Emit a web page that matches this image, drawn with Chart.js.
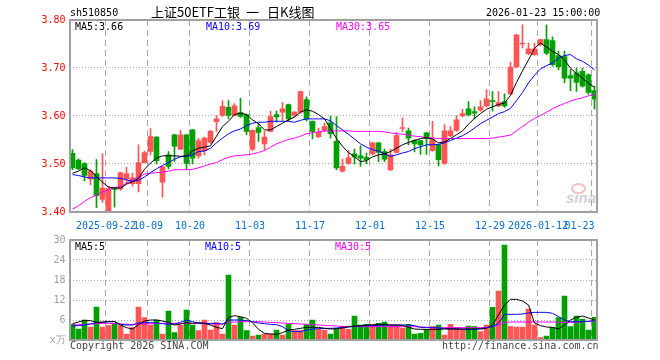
<!DOCTYPE html>
<html>
<head>
<meta charset="utf-8">
<title>上证50ETF工银 日K线图</title>
<script src="https://cdn.jsdelivr.net/npm/chart.js"></script>
<style>
  html, body { margin: 0; padding: 0; background: #fff; }
  #stage { position: relative; width: 660px; height: 360px; overflow: hidden; }
  canvas { position: absolute; left: 0; z-index: 1; }
  #kChart { top: 0; }
  #vChart { top: 230px; }
  .txt { position: absolute; z-index: 2; white-space: pre; font: 10px/12px 'DejaVu Sans Mono', monospace; color: #000; }
  .cjk { font: 13px/13px 'Noto Sans CJK SC', sans-serif; }
  .blue { color: #0000ff; }
  .pink { color: #ff00ff; }
  .foot { color: #444; }
  #logoText { position: absolute; z-index: 0; left: 566px; top: 190px; font: italic bold 15px/15px 'Liberation Sans', sans-serif; color: #d2d2d2; }
  #logoEye { position: absolute; z-index: 0; left: 571px; top: 183px; width: 11px; height: 7px; border: 2px solid #f2c0c0; border-radius: 50%; }
</style>
</head>
<body>
<div id="stage">
  <div id="logoEye"></div>
  <div id="logoText">sina</div>
  <canvas id="kChart" width="660" height="232"></canvas>
  <canvas id="vChart" width="660" height="130"></canvas>

  <div class="txt" style="left:70px;top:7px">sh510850</div>
  <div class="txt cjk" style="left:151px;top:5px">上证50ETF工银</div>
  <div class="txt cjk" style="left:246px;top:5px">一</div>
  <div class="txt cjk" style="left:267px;top:5px">日K线图</div>
  <div class="txt" style="left:486px;top:7px">2026-01-23 15:00:00</div>

  <div class="txt" style="left:75px;top:21px">MA5:3.66</div>
  <div class="txt blue" style="left:206px;top:21px">MA10:3.69</div>
  <div class="txt pink" style="left:336px;top:21px">MA30:3.65</div>

  <div class="txt" style="left:75px;top:241px">MA5:5</div>
  <div class="txt blue" style="left:205px;top:241px">MA10:5</div>
  <div class="txt pink" style="left:335px;top:241px">MA30:5</div>

  <div class="txt foot" style="left:70px;top:340px">Copyright 2026 SINA.COM</div>
  <div class="txt foot" style="left:442px;top:340px">http://finance.sina.com.cn</div>
</div>

<script>
// trading days, 2025-09-12 .. 2026-01-23
const dates = [
  '2025-09-12', '2025-09-15', '2025-09-16', '2025-09-17', '2025-09-18', '2025-09-19', '2025-09-22', '2025-09-23', '2025-09-24', '2025-09-25',
  '2025-09-26', '2025-09-29', '2025-09-30', '2025-10-09', '2025-10-10', '2025-10-13', '2025-10-14', '2025-10-15', '2025-10-16', '2025-10-17',
  '2025-10-20', '2025-10-21', '2025-10-22', '2025-10-23', '2025-10-24', '2025-10-27', '2025-10-28', '2025-10-29', '2025-10-30', '2025-10-31',
  '2025-11-03', '2025-11-04', '2025-11-05', '2025-11-06', '2025-11-07', '2025-11-10', '2025-11-11', '2025-11-12', '2025-11-13', '2025-11-14',
  '2025-11-17', '2025-11-18', '2025-11-19', '2025-11-20', '2025-11-21', '2025-11-24', '2025-11-25', '2025-11-26', '2025-11-27', '2025-11-28',
  '2025-12-01', '2025-12-02', '2025-12-03', '2025-12-04', '2025-12-05', '2025-12-08', '2025-12-09', '2025-12-10', '2025-12-11', '2025-12-12',
  '2025-12-15', '2025-12-16', '2025-12-17', '2025-12-18', '2025-12-19', '2025-12-22', '2025-12-23', '2025-12-24', '2025-12-25', '2025-12-26',
  '2025-12-29', '2025-12-30', '2025-12-31', '2026-01-05', '2026-01-06', '2026-01-07', '2026-01-08', '2026-01-09', '2026-01-12', '2026-01-13',
  '2026-01-14', '2026-01-15', '2026-01-16', '2026-01-19', '2026-01-20', '2026-01-21', '2026-01-22', '2026-01-23'
];

const open = [
  3.522, 3.508, 3.501, 3.469, 3.480, 3.426, 3.401, 3.450, 3.448, 3.469,
  3.459, 3.459, 3.503, 3.526, 3.556, 3.462, 3.519, 3.561, 3.531, 3.561,
  3.571, 3.517, 3.528, 3.545, 3.588, 3.601, 3.618, 3.601, 3.607, 3.603,
  3.531, 3.576, 3.542, 3.568, 3.603, 3.608, 3.624, 3.601, 3.608, 3.634,
  3.589, 3.557, 3.570, 3.586, 3.547, 3.485, 3.501, 3.521, 3.517, 3.514,
  3.521, 3.544, 3.526, 3.488, 3.524, 3.574, 3.569, 3.549, 3.549, 3.565,
  3.528, 3.540, 3.501, 3.559, 3.570, 3.600, 3.615, 3.609, 3.612, 3.621,
  3.632, 3.621, 3.630, 3.646, 3.702, 3.750, 3.730, 3.728, 3.748, 3.759,
  3.757, 3.726, 3.724, 3.684, 3.690, 3.693, 3.686, 3.653
];
const high = [
  3.530, 3.511, 3.503, 3.488, 3.509, 3.521, 3.453, 3.452, 3.483, 3.493,
  3.481, 3.540, 3.527, 3.574, 3.557, 3.495, 3.526, 3.562, 3.570, 3.562,
  3.572, 3.553, 3.556, 3.570, 3.601, 3.632, 3.632, 3.626, 3.637, 3.604,
  3.571, 3.584, 3.568, 3.610, 3.610, 3.628, 3.625, 3.609, 3.652, 3.640,
  3.590, 3.575, 3.585, 3.600, 3.599, 3.510, 3.528, 3.531, 3.538, 3.523,
  3.545, 3.545, 3.531, 3.531, 3.566, 3.596, 3.575, 3.551, 3.550, 3.566,
  3.589, 3.541, 3.582, 3.578, 3.601, 3.614, 3.630, 3.619, 3.632, 3.655,
  3.651, 3.651, 3.646, 3.712, 3.770, 3.790, 3.752, 3.752, 3.760, 3.790,
  3.765, 3.735, 3.735, 3.697, 3.700, 3.700, 3.688, 3.662
];
const low = [
  3.488, 3.488, 3.465, 3.457, 3.409, 3.420, 3.400, 3.410, 3.445, 3.459,
  3.454, 3.442, 3.502, 3.519, 3.500, 3.431, 3.490, 3.505, 3.530, 3.488,
  3.500, 3.512, 3.519, 3.543, 3.568, 3.599, 3.594, 3.600, 3.597, 3.561,
  3.528, 3.547, 3.530, 3.567, 3.587, 3.591, 3.590, 3.598, 3.606, 3.590,
  3.552, 3.555, 3.567, 3.554, 3.488, 3.483, 3.499, 3.500, 3.495, 3.500,
  3.519, 3.505, 3.505, 3.486, 3.522, 3.568, 3.540, 3.525, 3.520, 3.520,
  3.526, 3.496, 3.499, 3.557, 3.568, 3.598, 3.600, 3.594, 3.610, 3.619,
  3.610, 3.619, 3.618, 3.644, 3.700, 3.742, 3.728, 3.726, 3.746, 3.728,
  3.704, 3.696, 3.669, 3.653, 3.651, 3.660, 3.645, 3.615
];
const close = [
  3.492, 3.490, 3.476, 3.485, 3.434, 3.450, 3.449, 3.447, 3.482, 3.480,
  3.471, 3.503, 3.524, 3.557, 3.507, 3.494, 3.495, 3.537, 3.561, 3.501,
  3.512, 3.549, 3.554, 3.568, 3.594, 3.620, 3.601, 3.621, 3.599, 3.568,
  3.570, 3.566, 3.556, 3.599, 3.598, 3.615, 3.594, 3.608, 3.651, 3.594,
  3.568, 3.566, 3.578, 3.563, 3.492, 3.495, 3.513, 3.515, 3.512, 3.509,
  3.544, 3.524, 3.510, 3.519, 3.559, 3.576, 3.554, 3.542, 3.540, 3.553,
  3.551, 3.509, 3.569, 3.569, 3.592, 3.605, 3.603, 3.606, 3.619, 3.636,
  3.630, 3.628, 3.621, 3.702, 3.769, 3.752, 3.740, 3.740, 3.759, 3.731,
  3.707, 3.703, 3.679, 3.679, 3.670, 3.662, 3.649, 3.635
];

const ma5 = [
  3.481, 3.485, 3.492, 3.486, 3.474, 3.462, 3.452, 3.450, 3.450, 3.458,
  3.463, 3.470, 3.489, 3.502, 3.512, 3.517, 3.517, 3.517, 3.516, 3.517,
  3.527, 3.533, 3.535, 3.538, 3.558, 3.578, 3.589, 3.603, 3.606, 3.603,
  3.592, 3.584, 3.571, 3.571, 3.578, 3.585, 3.592, 3.598, 3.608, 3.613,
  3.610, 3.603, 3.594, 3.574, 3.553, 3.537, 3.524, 3.515, 3.505, 3.507,
  3.515, 3.519, 3.521, 3.526, 3.533, 3.540, 3.545, 3.549, 3.553, 3.555,
  3.552, 3.544, 3.546, 3.553, 3.561, 3.569, 3.583, 3.595, 3.605, 3.614,
  3.619, 3.624, 3.627, 3.643, 3.670, 3.694, 3.717, 3.741, 3.752, 3.744,
  3.735, 3.728, 3.716, 3.700, 3.688, 3.679, 3.668, 3.660
];
const ma10 = [
  3.478, 3.476, 3.473, 3.471, 3.471, 3.471, 3.471, 3.471, 3.470, 3.467,
  3.464, 3.466, 3.473, 3.482, 3.490, 3.497, 3.503, 3.510, 3.515, 3.516,
  3.519, 3.526, 3.527, 3.533, 3.544, 3.554, 3.563, 3.569, 3.573, 3.580,
  3.585, 3.587, 3.587, 3.589, 3.589, 3.589, 3.589, 3.587, 3.591, 3.594,
  3.594, 3.594, 3.594, 3.590, 3.580, 3.571, 3.562, 3.552, 3.542, 3.535,
  3.530, 3.527, 3.521, 3.516, 3.519, 3.523, 3.526, 3.532, 3.536, 3.540,
  3.540, 3.541, 3.544, 3.549, 3.554, 3.559, 3.566, 3.575, 3.584, 3.591,
  3.598, 3.605, 3.609, 3.616, 3.632, 3.649, 3.669, 3.685, 3.698, 3.705,
  3.710, 3.721, 3.726, 3.728, 3.719, 3.714, 3.706, 3.696
];
const ma30 = [
  3.406, 3.413, 3.422, 3.430, 3.435, 3.442, 3.446, 3.451, 3.453, 3.460,
  3.467, 3.472, 3.479, 3.481, 3.482, 3.483, 3.485, 3.488, 3.488, 3.488,
  3.489, 3.492, 3.496, 3.500, 3.503, 3.509, 3.514, 3.517, 3.518, 3.519,
  3.521, 3.524, 3.528, 3.535, 3.542, 3.547, 3.551, 3.554, 3.558, 3.563,
  3.565, 3.567, 3.569, 3.569, 3.569, 3.569, 3.569, 3.568, 3.568, 3.568,
  3.568, 3.568, 3.567, 3.565, 3.563, 3.562, 3.560, 3.558, 3.557, 3.555,
  3.554, 3.553, 3.553, 3.553, 3.553, 3.553, 3.553, 3.553, 3.553, 3.553,
  3.554, 3.556, 3.558, 3.560, 3.569, 3.578, 3.587, 3.595, 3.601, 3.608,
  3.615, 3.621, 3.626, 3.631, 3.635, 3.638, 3.642, 3.645
];

// volume, x万
const volume = [
  4.7, 3.3, 6.0, 3.9, 9.9, 3.9, 4.3, 5.0, 4.3, 1.8,
  3.7, 9.9, 6.7, 4.5, 6.0, 1.8, 8.7, 2.2, 4.5, 9.0,
  4.5, 2.8, 6.0, 3.0, 5.2, 1.8, 19.5, 4.5, 6.8, 2.8,
  1.2, 1.5, 1.8, 1.8, 3.0, 1.5, 4.7, 2.8, 2.8, 4.7,
  6.0, 3.2, 3.0, 1.8, 3.3, 4.0, 3.2, 7.2, 4.5, 4.7,
  4.7, 5.0, 5.4, 4.3, 4.3, 3.6, 4.7, 1.8, 2.0, 3.2,
  4.0, 4.5, 1.5, 4.7, 3.8, 3.2, 4.2, 4.0, 2.5, 4.5,
  9.8, 14.7, 28.5, 4.0, 3.9, 3.9, 9.3, 4.5, 0.7, 1.2,
  3.8, 6.7, 13.2, 4.0, 7.2, 6.2, 3.0, 6.8
];
const vma5 = [
  4.9, 5.4, 5.9, 5.8, 5.3, 5.3, 5.5, 5.5, 4.5, 3.7,
  3.3, 4.6, 5.7, 6.0, 6.0, 5.7, 5.3, 4.5, 4.8, 5.2,
  5.0, 5.2, 5.0, 4.5, 3.8, 3.4, 6.8, 7.3, 7.0, 6.5,
  5.2, 3.2, 2.0, 1.8, 1.7, 2.2, 3.0, 3.2, 3.5, 3.8,
  3.8, 3.8, 3.5, 3.3, 3.4, 3.6, 4.0, 4.2, 4.3, 4.5,
  4.5, 4.7, 4.7, 4.5, 4.5, 4.4, 3.8, 3.3, 3.2, 3.2,
  3.2, 3.2, 3.3, 3.3, 3.3, 3.3, 3.3, 3.3, 3.3, 3.5,
  4.5, 7.5, 10.5, 12.2, 12.2, 11.7, 10.5, 5.1, 4.3, 3.9,
  3.8, 3.3, 4.5, 6.0, 6.8, 7.2, 6.6, 6.0
];
const vma10 = [
  4.2, 4.3, 4.5, 4.8, 5.2, 5.4, 5.5, 5.5, 4.7, 4.5,
  4.5, 5.1, 5.2, 5.2, 5.1, 4.9, 4.7, 4.8, 5.3, 6.0,
  5.5, 5.1, 5.0, 5.0, 5.0, 4.7, 6.0, 6.0, 6.0, 5.8,
  5.5, 5.1, 4.9, 4.7, 4.6, 4.0, 2.8, 2.5, 2.5, 3.0,
  3.3, 3.4, 3.5, 3.5, 3.6, 3.8, 3.9, 4.1, 4.2, 4.3,
  4.3, 4.4, 4.5, 4.5, 4.5, 4.5, 4.5, 4.3, 3.8, 3.8,
  3.8, 3.6, 3.5, 3.4, 3.3, 3.3, 3.1, 3.2, 3.4, 3.7,
  4.0, 5.0, 7.7, 7.7, 7.7, 7.8, 8.1, 8.3, 8.3, 8.3,
  8.0, 7.0, 6.0, 5.5, 5.5, 5.5, 5.6, 5.8
];
const vma30 = [
  4.5, 4.6, 4.7, 4.8, 4.9, 5.0, 5.0, 4.9, 4.8, 4.7,
  4.7, 4.8, 4.8, 4.9, 4.9, 5.0, 5.0, 5.0, 5.0, 5.0,
  5.0, 4.9, 4.9, 4.8, 4.8, 4.8, 5.3, 5.4, 5.5, 5.5,
  5.5, 5.5, 5.4, 5.3, 5.2, 5.1, 5.0, 4.9, 4.8, 4.7,
  4.6, 4.5, 4.4, 4.3, 4.2, 4.1, 4.0, 4.0, 4.0, 4.0,
  4.0, 4.0, 4.0, 4.0, 4.0, 4.0, 4.0, 4.0, 3.9, 3.8,
  3.6, 3.6, 3.7, 3.7, 3.7, 3.7, 3.7, 3.7, 3.7, 3.8,
  4.0, 4.5, 5.2, 5.4, 5.4, 5.4, 5.4, 5.4, 5.4, 5.4,
  5.4, 5.3, 5.3, 5.3, 5.3, 5.5, 5.6, 5.7
];

// axis ticks
const priceTicks = [3.40, 3.50, 3.60, 3.70, 3.80];
const volTicks = [0, 6, 12, 18, 24, 30];
const tickIdx = [6, 13, 20, 30, 40, 50, 60, 70, 78, 87];
const tickText = ['2025-09-22', '10-09', '10-20', '11-03', '11-17', '12-01', '12-15', '12-29', '2026-01-12', '01-23'];

const UP = '#ff5555';
const DOWN = '#00a000';
const GRID = '#a8a8a8';
const FRAME = '#a0a0a0';
const DATE_BLUE = '#0a6fc8';
const MONO = { family: "'DejaVu Sans Mono', monospace", size: 10 };

const candleColor = close.map((c, i) => (c >= open[i] ? UP : DOWN));

function maLine(label, data, color) {
  return {
    type: 'line',
    label,
    data,
    borderColor: color,
    borderWidth: 1,
    pointRadius: 0,
    tension: 0,
    fill: false,
    order: 0
  };
}

// vertical dashed lines sit on the left edge of the dated slot
function xAxis(height) {
  return {
    offset: true,
    grid: {
      offset: true,
      drawTicks: false,
      color: (ctx) => (tickIdx.includes(ctx.index) ? GRID : 'rgba(0,0,0,0)')
    },
    border: { display: false, dash: [6, 4] },
    ticks: { display: false },
    afterFit: (scale) => { scale.height = height; }
  };
}

const framePlugin = {
  id: 'frame',
  afterDraw(chart) {
    const { ctx, chartArea: a } = chart;
    const l = Math.round(a.left), t = Math.round(a.top);
    const r = Math.floor(a.right), b = Math.floor(a.bottom);
    ctx.save();
    ctx.strokeStyle = FRAME;
    ctx.lineWidth = 2;
    ctx.strokeRect(l, t, r - l, b - t);
    ctx.restore();
  }
};

const dateLabelPlugin = {
  id: 'dateLabels',
  afterDraw(chart) {
    const { ctx, chartArea: a, scales: { x } } = chart;
    const half = (x.getPixelForValue(1) - x.getPixelForValue(0)) / 2;
    ctx.save();
    ctx.font = "10px 'DejaVu Sans Mono', monospace";
    ctx.fillStyle = DATE_BLUE;
    ctx.textBaseline = 'middle';
    tickIdx.forEach((idx, k) => {
      const w = ctx.measureText(tickText[k]).width;
      let left = x.getPixelForValue(idx) - half - w / 2 + 0.5;
      left = Math.min(left, a.right - w - 3);
      ctx.fillText(tickText[k], left, a.bottom + 14);
    });
    ctx.restore();
  }
};

const common = {
  responsive: false,
  animation: false,
  events: [],
  plugins: { legend: { display: false }, tooltip: { enabled: false } }
};

new Chart(document.getElementById('kChart'), {
  type: 'bar',
  data: {
    labels: dates,
    datasets: [
      maLine('MA5', ma5, '#000000'),
      maLine('MA10', ma10, '#0000ff'),
      maLine('MA30', ma30, '#ff00ff'),
      {
        label: 'body',
        data: dates.map((d, i) => [open[i], close[i]]),
        backgroundColor: candleColor,
        barThickness: 5,
        minBarLength: 1,
        grouped: false,
        order: 1
      },
      {
        label: 'wick',
        data: dates.map((d, i) => [low[i], high[i]]),
        backgroundColor: candleColor,
        barThickness: 1,
        grouped: false,
        order: 2
      }
    ]
  },
  options: {
    ...common,
    layout: { padding: { left: 0, right: 62.5, top: 20, bottom: 0 } },
    scales: {
      x: xAxis(20),
      y: {
        min: 3.4,
        max: 3.8,
        afterBuildTicks: (scale) => { scale.ticks = priceTicks.map(v => ({ value: v })); },
        afterFit: (scale) => { scale.width = 69.5; },
        grid: { color: GRID, drawTicks: false },
        border: { display: false, dash: [1, 2] },
        ticks: { color: '#ff0000', font: MONO, padding: 4, callback: (v) => Number(v).toFixed(2) }
      }
    }
  },
  plugins: [framePlugin, dateLabelPlugin]
});

new Chart(document.getElementById('vChart'), {
  type: 'bar',
  data: {
    labels: dates,
    datasets: [
      maLine('MA5', vma5, '#000000'),
      maLine('MA10', vma10, '#0000ff'),
      maLine('MA30', vma30, '#ff00ff'),
      {
        label: 'volume',
        data: volume,
        backgroundColor: candleColor,
        barThickness: 5,
        grouped: false,
        order: 1
      }
    ]
  },
  options: {
    ...common,
    layout: { padding: { left: 0, right: 62.5, top: 10, bottom: 0 } },
    scales: {
      x: xAxis(20),
      y: {
        min: 0,
        max: 30,
        afterBuildTicks: (scale) => { scale.ticks = volTicks.map(v => ({ value: v })); },
        afterFit: (scale) => { scale.width = 69.5; },
        grid: { color: GRID, drawTicks: false },
        border: { display: false, dash: [1, 2] },
        ticks: { color: '#a0a0a0', font: MONO, padding: 4, callback: (v) => (v === 0 ? 'x万' : String(v)) }
      }
    }
  },
  plugins: [framePlugin]
});
</script>
</body>
</html>
